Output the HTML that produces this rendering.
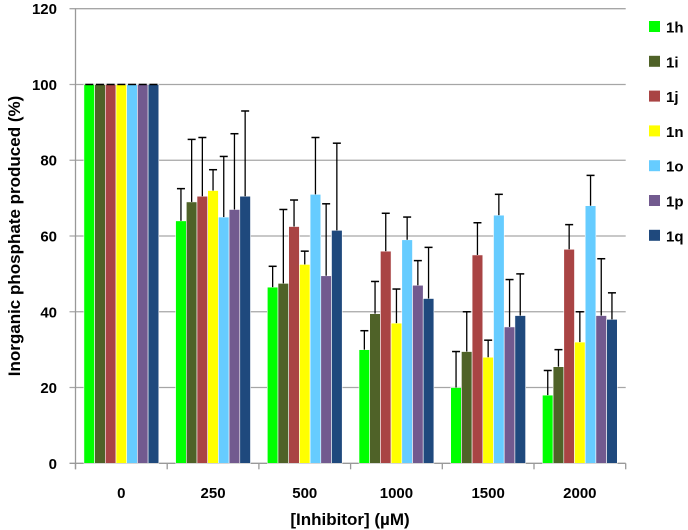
<!DOCTYPE html>
<html><head><meta charset="utf-8"><style>
html,body{margin:0;padding:0;background:#fff;}
svg{display:block;font-family:"Liberation Sans",sans-serif;}
</style></head><body>
<svg id="chart" width="688" height="530"></svg>
<script>
const categories=["0","250","500","1000","1500","2000"];
const seriesNames=["1h","1i","1j","1n","1o","1p","1q"];
const colors=["#00ff00","#4f6228","#a94444","#ffff00","#66ccff","#725a8f","#1f497d"];
const s1h=[100,64,46.5,30,20,18];
const s1i=[100,69,47.5,39.5,29.5,25.5];
const s1j=[100,70.5,62.5,56,55,56.5];
const s1n=[100,72,52.5,37,28,32];
const s1o=[100,65,71,59,65.5,68];
const s1p=[100,67,49.5,47,36,39];
const s1q=[100,70.5,61.5,43.5,39,38];
const e1h=[0,8.5,5.5,5,9.5,6.5];
const e1i=[0,16.5,19.5,8.5,10.5,4.5];
const e1j=[0,15.5,7,10,8.5,6.5];
const e1n=[0,5.5,3.5,9,4.5,8];
const e1o=[0,16,15,6,5.5,8];
const e1p=[0,20,19,6.5,12.5,15];
const e1q=[0,22.5,23,13.5,11,7];
const yTicks=[0,20,40,60,80,100,120];
const values=[s1h,s1i,s1j,s1n,s1o,s1p,s1q];
const errors=[e1h,e1i,e1j,e1n,e1o,e1p,e1q];
const NS="http://www.w3.org/2000/svg";
const svg=document.getElementById('chart');
const L=75.5,R=625.7,T=8.7,B=463.3;
const y=v=>B-(v/120)*(B-T);
const gw=(R-L)/categories.length, bw=10.7;
const x=(g,s)=>L+g*gw+(gw-7*bw)/2+s*bw;
function mk(tag,attrs){const e=document.createElementNS(NS,tag);for(const k in attrs)e.setAttribute(k,attrs[k]);svg.appendChild(e);return e;}
yTicks.forEach(t=>{
 const g=mk('line',{x1:L-6,x2:R,y1:y(t),y2:y(t),stroke:t===0?'#999':'#a6a6a6','stroke-width':1.3});
 
 
 const tx=mk('text',{x:57,y:y(t)+5.5,'text-anchor':'end','font-size':15,'font-weight':'bold'});
 tx.textContent=t;
 
 
});
const ya=mk('line',{x1:L,x2:L,y1:T,y2:B+6,stroke:'#999','stroke-width':1.3});


for(let g=0;g<=categories.length;g++){
 const tk=mk('line',{x1:L+g*gw,x2:L+g*gw,y1:B,y2:B+6,stroke:'#999','stroke-width':1.3});
 
 
}
categories.forEach((c,g)=>{
 const tx=mk('text',{x:L+g*gw+gw/2,y:498,'text-anchor':'middle','font-size':15,'font-weight':'bold'});
 tx.textContent=c;
 
 
 values.forEach((ser,s)=>{
  const v=ser[g],x0=x(g,s);
  const r=mk('rect',{x:x0,y:y(v),width:bw,height:B-y(v),fill:colors[s],stroke:'#fff','stroke-width':0.6});
  
  
  const cx=x0+bw/2,top=y(v+errors[s][g]);
  const l=mk('line',{x1:cx,x2:cx,y1:y(v),y2:top,stroke:'#000','stroke-width':1.3});
  
  
  const cp=mk('line',{x1:cx-4,x2:cx+4,y1:top,y2:top,stroke:'#000','stroke-width':1.5});
  
  
 });
});
seriesNames.forEach((n,s)=>{
 const yy=27+s*34.8;
 const r=mk('rect',{x:649,y:yy-6,width:11,height:11,fill:colors[s]});
 
 
 const t=mk('text',{x:666,y:yy+5.5,'font-size':15,'font-weight':'bold'});
 t.textContent=n;
 
 
});
const xt=mk('text',{x:350,y:525,'text-anchor':'middle','font-size':17,'font-weight':'bold'});
xt.textContent='[Inhibitor] (µM)';


const yt=mk('text',{x:0,y:0,'text-anchor':'middle','font-size':17,'font-weight':'bold',transform:'translate(20,236) rotate(-90)'});
yt.textContent='Inorganic phosphate produced (%)';


</script>
</body></html>
